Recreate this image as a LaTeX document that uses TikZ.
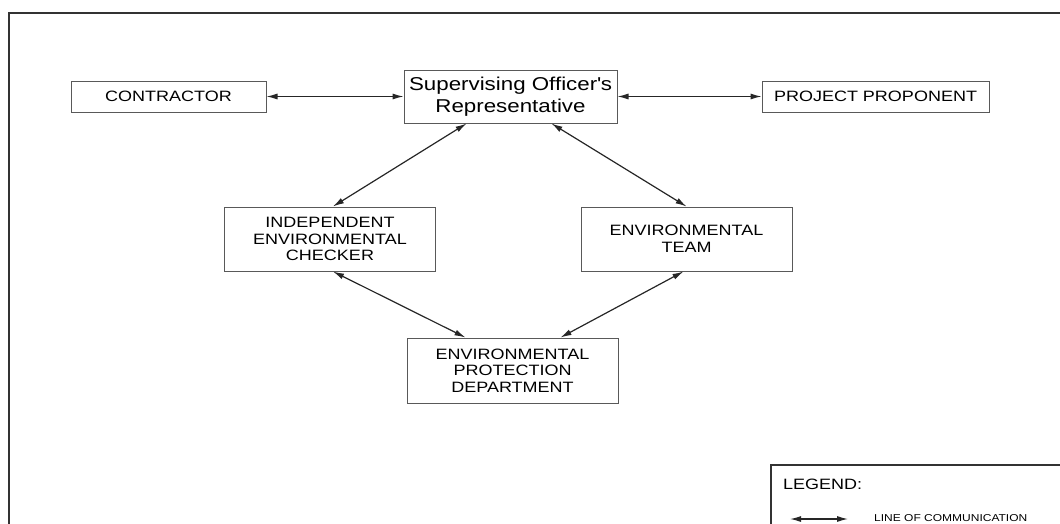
\documentclass[tikz,border=0pt]{standalone}
\usepackage{fontspec}
\setmainfont{Liberation Sans}[FakeStretch=1.2]
\usetikzlibrary{positioning,arrows.meta}
\tikzset{
party/.style={rectangle,draw=black!65,line width=1pt,fill=white,
minimum height=31pt,inner sep=0pt,align=center,
font=\fontsize{15}{16.6}\selectfont},
officer/.style={party,minimum width=213pt,minimum height=53pt,
font=\fontsize{18.6}{22}\selectfont},
comm/.style={draw=black!85,line width=1.2pt,
{Latex[length=11pt,width=6pt]}-{Latex[length=11pt,width=6pt]}}
}
\begin{document}
\begin{tikzpicture}[x=1pt,y=-1pt]
\useasboundingbox (0,0) rectangle (1060,523);

% outer frame
\draw[line width=2pt,black!80] (9,530) -- (9,13) -- (1070,13);

\node[officer] (SOR) at (510.5,96.5) {Supervising Officer\textquotesingle s\\Representative};
\node[party,minimum width=195pt,left=137pt of SOR] (CON) {CONTRACTOR};
\node[party,minimum width=227pt,right=144pt of SOR] (PP) {PROJECT PROPONENT};

\node[party,minimum width=211pt,minimum height=64pt] (IEC) at (330,239)
  {INDEPENDENT\\ENVIRONMENTAL\\CHECKER};
\node[party,minimum width=211pt,minimum height=64pt] (ET) at (686.5,239)
  {ENVIRONMENTAL\\TEAM};
\node[party,minimum width=211pt,minimum height=65pt] (EPD) at (512.5,370.5)
  {ENVIRONMENTAL\\PROTECTION\\DEPARTMENT};

\draw[comm] (CON) -- (SOR);
\draw[comm] (SOR) -- (PP);
\draw[comm] ([xshift=-44pt]SOR.south) -- ([xshift=3pt]IEC.north);
\draw[comm] ([xshift=41pt]SOR.south) -- (ET.north);
\draw[comm] ([xshift=3pt]IEC.south) -- ([xshift=-47pt]EPD.north);
\draw[comm] ([xshift=-3pt]ET.south) -- ([xshift=48pt]EPD.north);

% legend
\draw[line width=1.5pt,black!80] (771,530) -- (771,465) -- (1070,465);
\node[anchor=base west,inner sep=0pt,font=\fontsize{15}{17}\selectfont] (LEG) at (783,489) {LEGEND:};
\coordinate (L1) at (790,519);
\coordinate (L2) at (848,519);
\draw[comm] (L1) -- (L2);
\node[anchor=base west,inner sep=0pt,font=\fontsize{10}{12}\selectfont] (LOC) at (874,521) {LINE OF COMMUNICATION};
\end{tikzpicture}
\end{document}
